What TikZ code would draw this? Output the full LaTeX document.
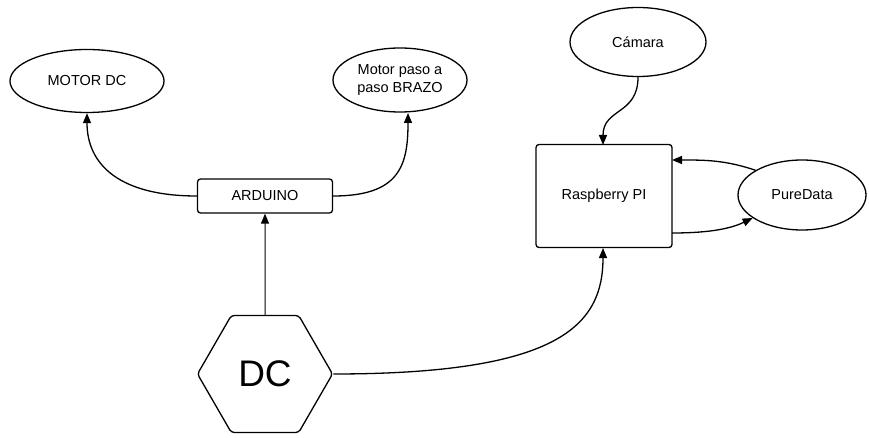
\documentclass[tikz,border=0pt]{standalone}
\usepackage{fontspec}
\setmainfont{Liberation Sans}
\usetikzlibrary{shapes.geometric,arrows.meta}
\begin{document}
\begin{tikzpicture}[x=1pt,y=-1pt,
  every node/.style={font=\fontsize{14.5}{17.5}\selectfont, align=center, line width=1.3pt},
  oval/.style={draw, ellipse, inner sep=0pt},
  box/.style={draw, rectangle, rounded corners=3pt, inner sep=0pt},
  conn/.style={line width=1.3pt, -{Triangle[length=10pt,width=8pt]}},
  plain/.style={line width=1.3pt}]
\useasboundingbox (0,0) rectangle (869,438);
\node[oval, minimum width=154pt, minimum height=63pt] (motor) at (87,81) {MOTOR DC};
\node[oval, minimum width=134pt, minimum height=64pt] (brazo) at (400,80) {Motor paso a\\paso BRAZO};
\node[box, minimum width=135pt, minimum height=34pt] (ard) at (265,196) {ARDUINO};
\node[draw, regular polygon, regular polygon sides=6, minimum size=135pt, inner sep=0pt,
      rounded corners=3pt, font=\fontsize{37}{40}\selectfont] (dc) at (265,374) {DC};
\node[box, minimum width=136pt, minimum height=103pt] (rpi) at (604,196) {Raspberry PI};
\node[oval, minimum width=136pt, minimum height=69pt] (cam) at (638,42) {Cámara};
\node[oval, minimum width=128pt, minimum height=70pt] (pd) at (802,195) {PureData};
\draw[conn] (ard.west) .. controls (120,196) and (87,165) .. (motor.south);
\draw[conn] (ard.east) .. controls (400,196) and (408,165) .. (408,113);
\draw[conn, line width=1pt] (dc.north) -- (ard.south);
\draw[conn] (dc.east) .. controls (560,374) and (603,325) .. (603,248);
\draw[conn] (cam.south) .. controls (638,115) and (603,108) .. (603,145);
\draw[conn] (pd.152) .. controls (725,160) and (705,160) .. (672,160);
\draw[conn] (672,233) .. controls (712,233) and (732,228) .. (pd.205);
\end{tikzpicture}
\end{document}
